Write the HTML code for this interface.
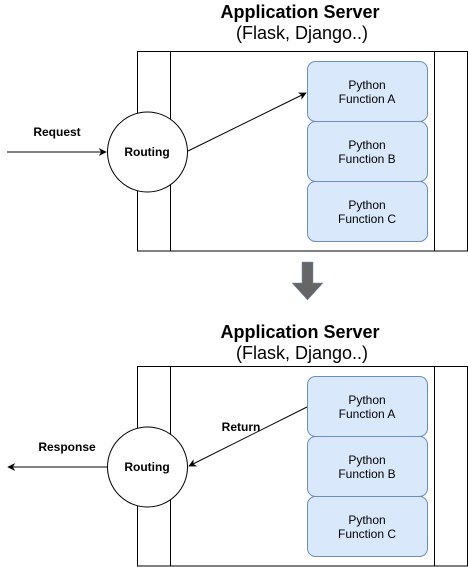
<!DOCTYPE html>
<html><head><style>body{margin:0;background:#fff}svg{display:block}</style></head><body>
<svg width="468" height="567" xmlns="http://www.w3.org/2000/svg" font-family="Liberation Sans, Arial, sans-serif">
<defs>
<marker id="a" viewBox="0 0 10 10" refX="9" refY="5" markerWidth="8" markerHeight="8" orient="auto"><path d="M0,0 L10,5 L0,10 L3,5 Z" fill="#000"/></marker>
</defs>
<text x="300" y="18" text-anchor="middle" font-size="18" font-weight="bold">Application Server</text>
<text x="302" y="39" text-anchor="middle" font-size="18">(Flask, Django..)</text>
<rect x="137.5" y="51.5" width="330" height="199.5" fill="#fff" stroke="#000"/>
<line x1="170.5" y1="51.5" x2="170.5" y2="251" stroke="#000"/>
<line x1="434.5" y1="51.5" x2="434.5" y2="251" stroke="#000"/>
<g fill="#dae8fc" stroke="#6c8ebf">
<rect x="307.5" y="61.5" width="120" height="60" rx="8"/>
<rect x="307.5" y="121.5" width="120" height="60" rx="8"/>
<rect x="307.5" y="181.5" width="120" height="60" rx="8"/>
</g>
<g font-size="12" text-anchor="middle">
<text x="367" y="89">Python</text><text x="367" y="103">Function A</text>
<text x="367" y="149">Python</text><text x="367" y="163">Function B</text>
<text x="367" y="209">Python</text><text x="367" y="223">Function C</text>
</g>
<circle cx="147.5" cy="152" r="40" fill="#fff" stroke="#000"/>
<text x="147" y="156" text-anchor="middle" font-size="12" font-weight="bold">Routing</text>
<line x1="7" y1="152" x2="106" y2="152" stroke="#000" marker-end="url(#a)"/>
<text x="57" y="136" text-anchor="middle" font-size="12" font-weight="bold">Request</text>
<line x1="188" y1="151" x2="306" y2="93" stroke="#000" marker-end="url(#a)"/>

<path d="M302,262 H313 V283 H323 L307.5,300 L292,283 H302 Z" fill="#666" stroke="#6c8ebf" stroke-width="0.5"/>

<text x="300" y="338" text-anchor="middle" font-size="18" font-weight="bold">Application Server</text>
<text x="302" y="359" text-anchor="middle" font-size="18">(Flask, Django..)</text>
<rect x="137.5" y="366.5" width="330" height="199.5" fill="#fff" stroke="#000"/>
<line x1="170.5" y1="366.5" x2="170.5" y2="566" stroke="#000"/>
<line x1="434.5" y1="366.5" x2="434.5" y2="566" stroke="#000"/>
<g fill="#dae8fc" stroke="#6c8ebf">
<rect x="307.5" y="376.5" width="120" height="60" rx="8"/>
<rect x="307.5" y="436.5" width="120" height="60" rx="8"/>
<rect x="307.5" y="496.5" width="120" height="60" rx="8"/>
</g>
<g font-size="12" text-anchor="middle">
<text x="367" y="404">Python</text><text x="367" y="418">Function A</text>
<text x="367" y="464">Python</text><text x="367" y="478">Function B</text>
<text x="367" y="524">Python</text><text x="367" y="538">Function C</text>
</g>
<circle cx="147.5" cy="467" r="40" fill="#fff" stroke="#000"/>
<text x="147" y="471" text-anchor="middle" font-size="12" font-weight="bold">Routing</text>
<line x1="107" y1="467" x2="8" y2="467" stroke="#000" marker-end="url(#a)"/>
<text x="67" y="451" text-anchor="middle" font-size="12" font-weight="bold">Response</text>
<line x1="307" y1="407" x2="189" y2="466" stroke="#000" marker-end="url(#a)"/>
<text x="241" y="431" text-anchor="middle" font-size="12" font-weight="bold">Return</text>
</svg>
</body></html>
